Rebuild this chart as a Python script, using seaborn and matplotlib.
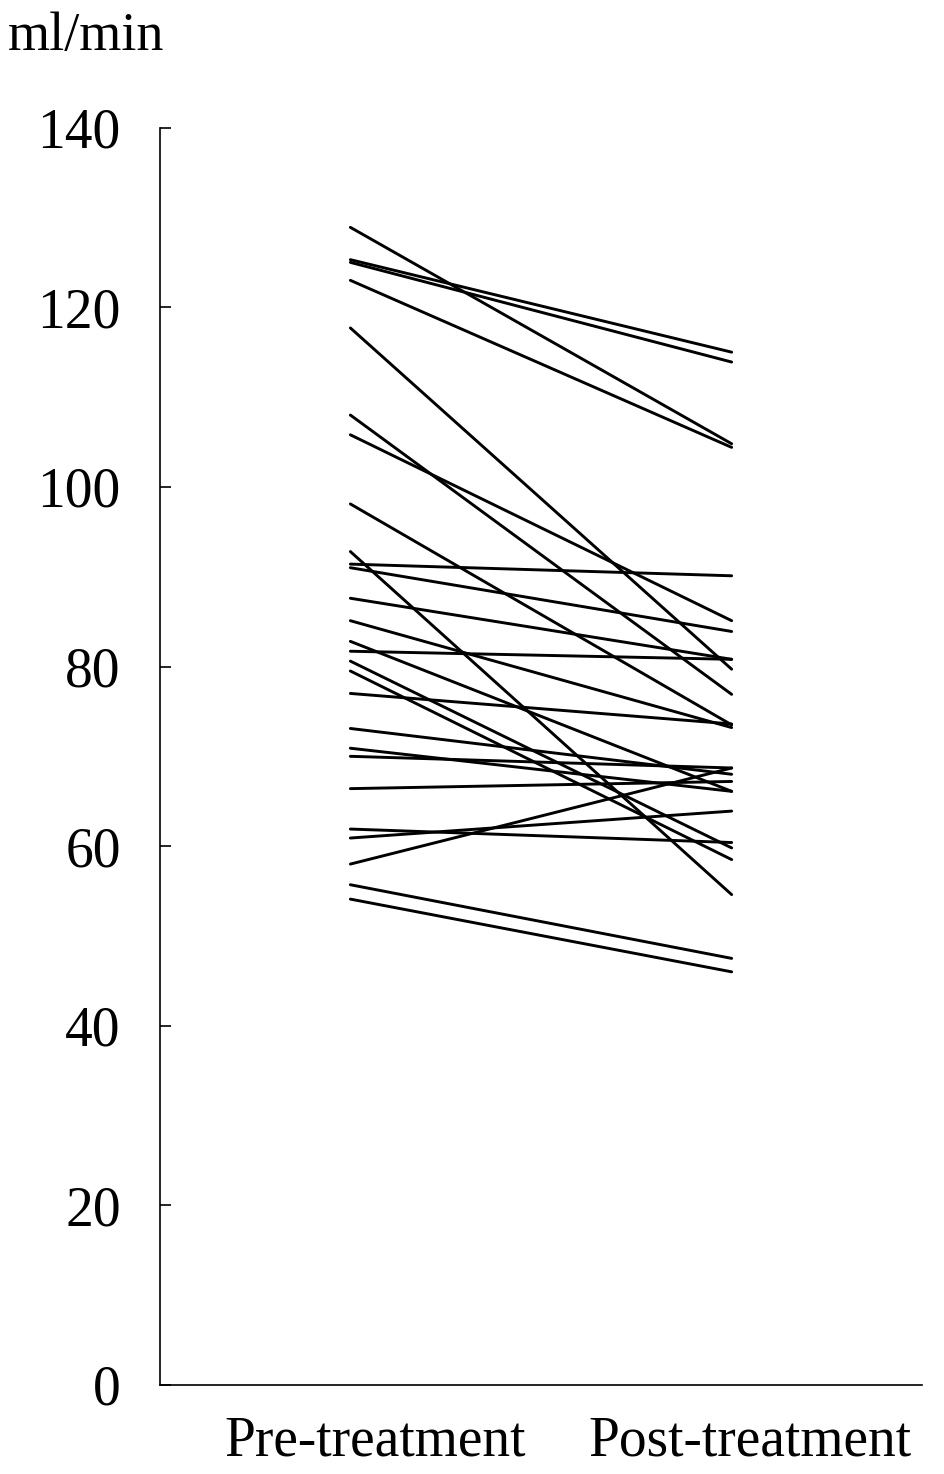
import numpy as np
import pandas as pd
import matplotlib
matplotlib.use("Agg")
import matplotlib.pyplot as plt
from matplotlib.ticker import FixedLocator
from matplotlib.transforms import ScaledTranslation
import seaborn as sns

# Data: per-patient values (ml/min)
conditions = ["Pre-treatment", "Post-treatment"]
pre = [128.9, 125.3, 125.0, 123.0, 117.7, 108.0, 105.8, 98.1, 92.8, 91.4,
       91.0, 87.6, 85.1, 82.8, 81.7, 80.6, 79.5, 77.0, 73.1, 70.9,
       70.0, 66.4, 61.9, 60.9, 58.0, 55.7, 54.1]
post = [104.8, 115.0, 113.9, 104.4, 79.7, 76.9, 85.1, 73.5, 54.6, 90.1,
        83.9, 80.8, 73.2, 66.1, 80.8, 59.8, 58.5, 73.6, 68.0, 66.1,
        68.7, 67.2, 60.4, 63.9, 68.7, 47.5, 46.0]
yticks = [0, 20, 40, 60, 80, 100, 120, 140]
xpos = [0.5, 1.5]

n = len(pre)
df = pd.DataFrame({
    "subject": list(range(n)) * 2,
    "x": [xpos[0]] * n + [xpos[1]] * n,
    "value": pre + post,
})

sns.set_style("white")
plt.rcParams["font.family"] = ["Liberation Serif", "DejaVu Serif"]
plt.rcParams["text.color"] = "black"
plt.rcParams["xtick.color"] = "black"
plt.rcParams["ytick.color"] = "black"

fig = plt.figure(figsize=(9.45, 14.74), dpi=100)
ax = fig.add_axes([0.169, 0.0604, 0.807, 0.853])

sns.lineplot(data=df, x="x", y="value", units="subject", estimator=None,
             color="black", linewidth=2.1, ax=ax, legend=False)

ax.set_xlim(0, 2)
ax.set_ylim(0, 140)
ax.set_yticks(yticks)
ax.set_yticklabels([str(t) for t in yticks])
ax.set_xticks(xpos)
ax.set_xticklabels(conditions)
ax.xaxis.set_minor_locator(FixedLocator([1, 2]))

ax.tick_params(axis="x", which="major", length=0, pad=22, labelsize=40,
               labelcolor="black")
ax.tick_params(axis="x", which="minor", direction="in", length=10, width=1.2, color="black")
ax.tick_params(axis="y", which="major", direction="in", length=8, width=1.2,
               pad=28, labelsize=40, color="black", labelcolor="black", left=True)

offsets = [0.25, 0.18]
for lab, dx in zip(ax.get_xticklabels(), offsets):
    lab.set_transform(lab.get_transform() + ScaledTranslation(dx, 0, fig.dpi_scale_trans))

for side in ["top", "right"]:
    ax.spines[side].set_visible(False)
for side in ["left", "bottom"]:
    ax.spines[side].set_color("black")
    ax.spines[side].set_linewidth(1.2)

ax.set_xlabel("")
ax.set_ylabel("")

fig.text(8 / 945, 1 - 37 / 1474, "ml/min", ha="left", va="center", fontsize=39,
         color="black")

fig.savefig("out.png", dpi=100, facecolor="white")
